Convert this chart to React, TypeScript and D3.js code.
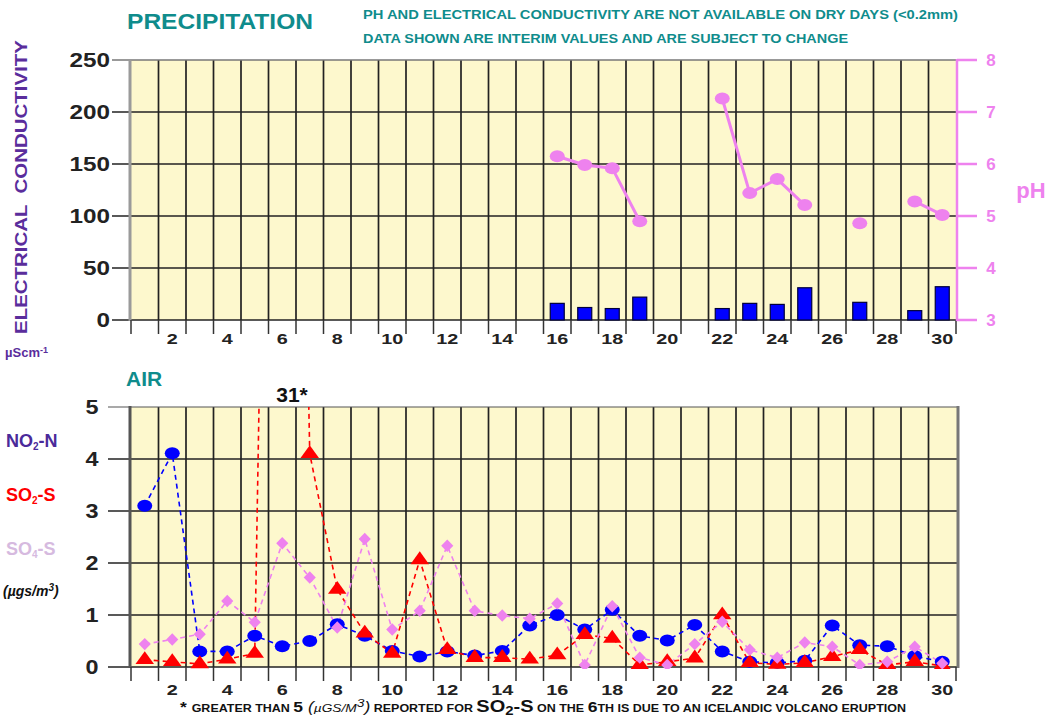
import React from "react";
import * as d3 from "d3";

// days of the month
const days = d3.range(1, 31);
const evenDays = days.filter((d) => d % 2 === 0);

// precipitation: electrical conductivity (bars) and pH (line), null = dry day
const ecValues: (number | null)[] = [
  null, null, null, null, null, null, null, null, null, null,
  null, null, null, null, null, 16, 12, 11, 22, null,
  null, 11, 16, 15, 31, null, 17, null, 9, 32,
];
const phValues: (number | null)[] = [
  null, null, null, null, null, null, null, null, null, null,
  null, null, null, null, null, 6.15, 5.98, 5.92, 4.9, null,
  null, 7.26, 5.44, 5.71, 5.21, null, 4.86, null, 5.28, 5.02,
];
const ecTicks = [0, 50, 100, 150, 200, 250];
const phTicks = [3, 4, 5, 6, 7, 8];

// air
const no2Values = [
  3.1, 4.11, 0.3, 0.3, 0.6, 0.4, 0.5, 0.82, 0.6, 0.31,
  0.2, 0.3, 0.22, 0.31, 0.8, 1.0, 0.72, 1.1, 0.6, 0.51,
  0.81, 0.3, 0.1, 0.08, 0.12, 0.8, 0.42, 0.4, 0.21, 0.1,
];
const so2Values = [
  0.14, 0.1, 0.06, 0.15, 0.26, 31, 4.1, 1.49, 0.65, 0.26,
  2.06, 0.33, 0.18, 0.18, 0.15, 0.23, 0.62, 0.55, 0.04, 0.1,
  0.17, 1.0, 0.08, 0.05, 0.08, 0.2, 0.33, 0.04, 0.1, 0.02,
];
const so4Values = [
  0.44, 0.53, 0.63, 1.27, 0.86, 2.38, 1.72, 0.76, 2.46, 0.72,
  1.08, 2.33, 1.08, 0.99, 0.93, 1.22, 0.04, 1.17, 0.18, 0.04,
  0.44, 0.87, 0.33, 0.18, 0.47, 0.39, 0.04, 0.1, 0.39, 0.07,
];
const airTicks = [0, 1, 2, 3, 4, 5];

const FONT = "'Liberation Sans', Arial, Helvetica, sans-serif";
const TEAL = "#0f8c8c";
const PURPLE = "#5a2d9c";
const VIOLET = "#ee82ee";
const BLUE = "#0000ff";
const RED = "#ff0000";
const BG = "#fdf8cd";
const GRID = "#222";

export default function App() {
  const x = d3.scaleBand<number>().domain(days).range([131, 956]);
  const cx = (d: number) => (x(d) as number) + x.bandwidth() / 2;
  const bounds = d3.range(0, 31).map((i) => 131 + i * x.step());

  const yEc = d3.scaleLinear().domain([0, 250]).range([320, 60]);
  const yPh = d3.scaleLinear().domain([3, 8]).range([320, 60]);
  const yAir = d3.scaleLinear().domain([0, 5]).range([667, 407]);

  const phLine = d3
    .line<number | null>()
    .defined((v) => v !== null)
    .x((_, i) => cx(days[i]))
    .y((v) => yPh(v as number));

  const airLine = d3
    .line<number>()
    .x((_, i) => cx(days[i]))
    .y((v) => yAir(v));

  const triangle = d3.symbol().type(d3.symbolTriangle).size(95)();
  const diamond = d3.symbol().type(d3.symbolDiamond).size(70)();

  return (
    <svg
      width={1052}
      height={720}
      style={{ position: "absolute", left: 0, top: 0, background: "#fff" }}
      fontFamily={FONT}
    >
      <defs>
        <clipPath id="airClip">
          <rect x={131} y={407} width={826} height={262} />
        </clipPath>
      </defs>

      {/* titles */}
      <text x={127} y={29} fontSize={22} fontWeight="bold" fill={TEAL} textLength={186} lengthAdjust="spacingAndGlyphs">
        PRECIPITATION
      </text>
      <text x={363} y={19} fontSize={13} fontWeight="bold" fill={TEAL} textLength={595} lengthAdjust="spacingAndGlyphs">
        PH AND ELECTRICAL CONDUCTIVITY ARE NOT AVAILABLE ON DRY DAYS (&lt;0.2mm)
      </text>
      <text x={363} y={43} fontSize={13} fontWeight="bold" fill={TEAL} textLength={485} lengthAdjust="spacingAndGlyphs">
        DATA SHOWN ARE INTERIM VALUES AND ARE SUBJECT TO CHANGE
      </text>

      {/* left label of precipitation */}
      <text
        transform="translate(27,334) rotate(-90)"
        fontSize={17}
        fontWeight="bold"
        fill={PURPLE}
        textLength={294}
        lengthAdjust="spacingAndGlyphs"
        style={{ whiteSpace: "pre" }}
      >
        {"ELECTRICAL  CONDUCTIVITY"}
      </text>
      <text x={5} y={357} fontSize={13} fontWeight="bold" fill={PURPLE}>
        µScm<tspan fontSize={9} dy={-4}>-1</tspan>
      </text>

      {/* precipitation plot */}
      <rect x={131} y={60} width={825} height={260} fill={BG} />
      {bounds.slice(1, 30).map((b) => (
        <line key={"tv" + b} x1={b} x2={b} y1={60} y2={320} stroke={GRID} strokeWidth={1.7} />
      ))}
      {ecTicks.map((t) => (
        <line key={"th" + t} x1={112} x2={956} y1={yEc(t)} y2={yEc(t)} stroke={t === 250 ? "#777" : GRID} strokeWidth={1.7} />
      ))}
      <line x1={130} x2={130} y1={60} y2={321} stroke="#9a9a9a" strokeWidth={3} />
      {bounds.map((b) => (
        <line key={"tt" + b} x1={b} x2={b} y1={320} y2={334} stroke="#333" strokeWidth={1.5} />
      ))}
      {ecTicks.map((t) => (
        <text
          key={"tl" + t}
          x={110}
          y={yEc(t) + 7}
          textAnchor="end"
          fontSize={20}
          fontWeight="bold"
          fill="#222"
          textLength={String(t).length * 13.5}
          lengthAdjust="spacingAndGlyphs"
        >
          {t}
        </text>
      ))}
      {evenDays.map((d) => (
        <text
          key={"tx" + d}
          x={cx(d)}
          y={344}
          textAnchor="middle"
          fontSize={14}
          fontWeight="bold"
          fill="#222"
          textLength={String(d).length * 11}
          lengthAdjust="spacingAndGlyphs"
        >
          {d}
        </text>
      ))}

      {/* EC bars */}
      {ecValues.map((v, i) =>
        v === null ? null : (
          <rect
            key={"bar" + i}
            x={cx(days[i]) - 7}
            y={yEc(v)}
            width={14}
            height={yEc(0) - yEc(v)}
            fill={BLUE}
            stroke="#00003a"
            strokeWidth={1.2}
          />
        )
      )}

      {/* pH axis */}
      <line x1={957} x2={957} y1={59} y2={321} stroke={VIOLET} strokeWidth={2.5} />
      {phTicks.map((t) => (
        <g key={"ph" + t}>
          <line x1={957} x2={977} y1={yPh(t)} y2={yPh(t)} stroke={VIOLET} strokeWidth={2.5} />
          <text x={991} y={yPh(t) + 6} textAnchor="middle" fontSize={17} fontWeight="bold" fill={VIOLET}>
            {t}
          </text>
        </g>
      ))}
      <text x={1031} y={198} textAnchor="middle" fontSize={22} fontWeight="bold" fill={VIOLET}>
        pH
      </text>

      {/* pH line */}
      <path d={phLine(phValues) || ""} fill="none" stroke={VIOLET} strokeWidth={3} />
      {phValues.map((v, i) =>
        v === null ? null : (
          <ellipse key={"pp" + i} cx={cx(days[i])} cy={yPh(v)} rx={7.5} ry={6} fill={VIOLET} />
        )
      )}

      {/* air section */}
      <text x={126} y={386} fontSize={21} fontWeight="bold" fill={TEAL}>
        AIR
      </text>
      <text x={292} y={402} textAnchor="middle" fontSize={21} fontWeight="bold" fill="#111">
        31*
      </text>

      {/* legend */}
      <text x={6} y={447} fontSize={18} fontWeight="bold" fill="#4a2a9a">
        NO<tspan fontSize={10} dy={3}>2</tspan><tspan dy={-3}>-N</tspan>
      </text>
      <text x={6} y={501} fontSize={18} fontWeight="bold" fill={RED}>
        SO<tspan fontSize={10} dy={3}>2</tspan><tspan dy={-3}>-S</tspan>
      </text>
      <text x={6} y={555} fontSize={18} fontWeight="bold" fill="#d6badf">
        SO<tspan fontSize={10} dy={3}>4</tspan><tspan dy={-3}>-S</tspan>
      </text>
      <text x={3} y={596} fontSize={14} fontStyle="italic" fontWeight="bold" fill="#111">
        (µgs/m<tspan fontSize={10} dy={-5}>3</tspan><tspan dy={5}>)</tspan>
      </text>

      {/* air plot */}
      <rect x={131} y={407} width={826} height={260} fill={BG} />
      {bounds.slice(1, 30).map((b) => (
        <line key={"av" + b} x1={b} x2={b} y1={407} y2={667} stroke={GRID} strokeWidth={1.7} />
      ))}
      {airTicks.map((t) => (
        <line
          key={"ah" + t}
          x1={108}
          x2={958}
          y1={yAir(t)}
          y2={yAir(t)}
          stroke={t === 5 ? "#555" : GRID}
          strokeWidth={t === 5 ? 1.2 : 1.7}
        />
      ))}
      <line x1={130} x2={130} y1={406} y2={668} stroke="#555" strokeWidth={3} />
      <line x1={958} x2={958} y1={406} y2={668} stroke="#777" strokeWidth={3} />
      {bounds.map((b) => (
        <line key={"at" + b} x1={b} x2={b} y1={667} y2={681} stroke="#333" strokeWidth={1.5} />
      ))}
      {airTicks.map((t) => (
        <text
          key={"al" + t}
          x={92}
          y={yAir(t) + 7}
          textAnchor="middle"
          fontSize={20}
          fontWeight="bold"
          fill="#222"
          textLength={13}
          lengthAdjust="spacingAndGlyphs"
        >
          {t}
        </text>
      ))}
      {evenDays.map((d) => (
        <text
          key={"ax" + d}
          x={cx(d)}
          y={695}
          textAnchor="middle"
          fontSize={14}
          fontWeight="bold"
          fill="#222"
          textLength={String(d).length * 11}
          lengthAdjust="spacingAndGlyphs"
        >
          {d}
        </text>
      ))}

      {/* air series */}
      <g clipPath="url(#airClip)">
        <path d={airLine(no2Values) || ""} fill="none" stroke={BLUE} strokeWidth={1.6} strokeDasharray="5,4" />
        <path d={airLine(so2Values) || ""} fill="none" stroke={RED} strokeWidth={1.6} strokeDasharray="5,4" />
        <path d={airLine(so4Values) || ""} fill="none" stroke={VIOLET} strokeWidth={1.6} strokeDasharray="5,4" />
        {no2Values.map((v, i) => (
          <ellipse key={"n" + i} cx={cx(days[i])} cy={yAir(v)} rx={7.5} ry={6} fill={BLUE} />
        ))}
        {so2Values.map((v, i) => (
          <path key={"s" + i} d={triangle || ""} transform={`translate(${cx(days[i])},${yAir(v)}) scale(1.25,1)`} fill={RED} />
        ))}
        {so4Values.map((v, i) => (
          <path key={"f" + i} d={diamond || ""} transform={`translate(${cx(days[i])},${yAir(v)}) scale(1.35,0.8)`} fill={VIOLET} />
        ))}
      </g>

      {/* footnote */}
      <text x={180} y={712} fontWeight="bold" fill="#111" textLength={726} lengthAdjust="spacingAndGlyphs" fontSize={10}>
        <tspan fontSize={14}>* </tspan>
        GREATER THAN <tspan fontSize={14}>5 </tspan>
        <tspan fontStyle="italic" fontWeight="normal" fontSize={14}>(</tspan>
        <tspan fontStyle="italic" fontWeight="normal" fontSize={11}>µGS/M</tspan>
        <tspan fontStyle="italic" fontWeight="normal" fontSize={11} dy={-5}>3</tspan>
        <tspan fontStyle="italic" fontWeight="normal" fontSize={14} dy={5}>)</tspan>
        {" REPORTED FOR  "}
        <tspan fontSize={16}>SO</tspan>
        <tspan fontSize={12} dy={3}>2</tspan>
        <tspan fontSize={16} dy={-3}>-S</tspan>
        {"  ON THE "}
        <tspan fontSize={14}>6</tspan>
        TH IS DUE TO AN ICELANDIC VOLCANO ERUPTION
      </text>
    </svg>
  );
}
